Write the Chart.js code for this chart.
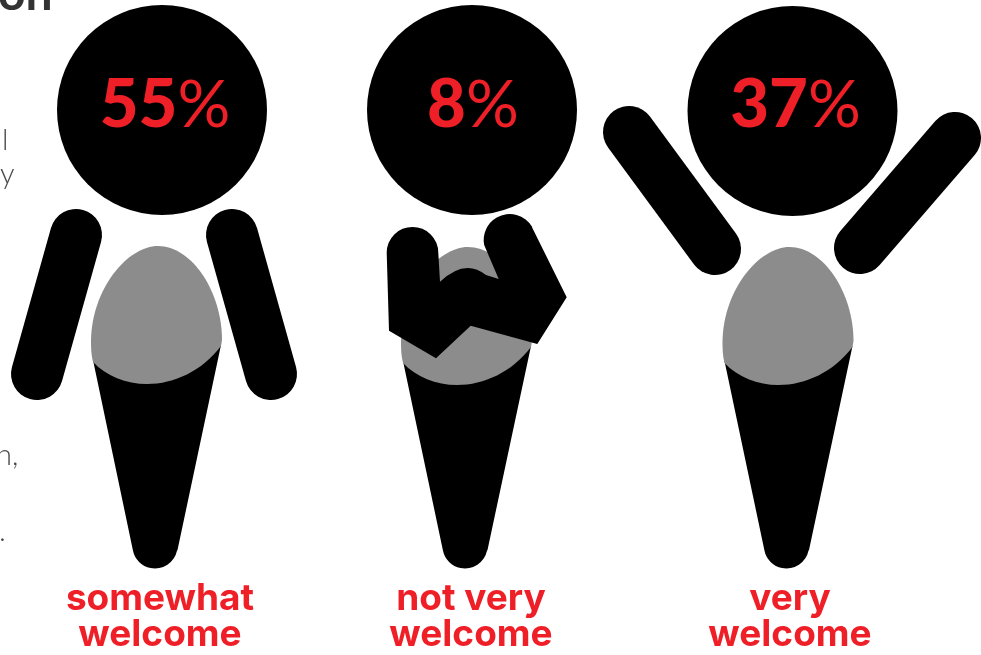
<!DOCTYPE html>
<html>
<head>
<meta charset="utf-8">
<title>How welcome</title>
<script src="https://cdn.jsdelivr.net/npm/chart.js@4/dist/chart.umd.min.js"></script>
<style>
html,body{margin:0;padding:0;background:#fff;overflow:hidden}
#wrap{position:relative;width:981px;height:655px}
</style>
</head>
<body>
<div id="wrap"><canvas id="chart" width="981" height="655"></canvas></div>
<script>
const categories=[['somewhat','welcome'],['not very','welcome'],['very','welcome']];
const shares=[55,8,37];
const headLevels=[110,110,111];

const RED='#ee1f27',GREY='#8c8c8c',BLACK='#000';
const SCALE_H=575; // y axis runs in figure units, top of the page to the axis

// per figure tweaks, the three people are not spaced quite evenly
const HEAD_SHIFT=[0,-5,0.5];
const BODY_SHIFT=[-6,-6,-5];
const TEXT_SHIFT=[3,1,3];
const LABEL_SHIFT=[-2,-6,-2];
const ARM_W=52;

function torso(ctx,dy){
  ctx.fillStyle=BLACK;
  ctx.beginPath();
  ctx.moveTo(-63,360+dy);
  ctx.lineTo(65,345+dy);
  ctx.lineTo(21.5,550);
  ctx.arc(-1,546,22.5,0.2,Math.PI-0.2);
  ctx.closePath();
  ctx.fill();
  ctx.fillStyle=GREY;
  ctx.beginPath();
  ctx.moveTo(-63,362+dy);
  ctx.bezierCurveTo(-65,354+dy,-65,347+dy,-65,340+dy);
  ctx.bezierCurveTo(-64,288+dy,-28,246+dy,2,246+dy);
  ctx.bezierCurveTo(36,246+dy,66,292+dy,66,340+dy);
  ctx.lineTo(65,346+dy);
  ctx.bezierCurveTo(46,371+dy,18,384+dy,-9,384+dy);
  ctx.bezierCurveTo(-30,384+dy,-50,376+dy,-63,362+dy);
  ctx.closePath();
  ctx.fill();
}
function arm(ctx,x1,y1,x2,y2){
  ctx.strokeStyle=BLACK;ctx.lineWidth=ARM_W;ctx.lineCap='round';
  ctx.beginPath();ctx.moveTo(x1,y1);ctx.lineTo(x2,y2);ctx.stroke();
}
function crossedArms(ctx){
  ctx.fillStyle=BLACK;
  ctx.beginPath();
  ctx.moveTo(-79.3,252.7);
  ctx.lineTo(-77,330.7);
  ctx.lineTo(-30,358.3);
  ctx.lineTo(4.7,325.7);
  ctx.lineTo(71.3,344);
  ctx.lineTo(100.7,297.3);
  ctx.lineTo(66,227.3);
  ctx.arc(43.7,240,26,-0.52,2.95,true);
  ctx.lineTo(32.7,279);
  ctx.lineTo(20,275);
  ctx.quadraticCurveTo(-1,258,-26,281.7);
  ctx.lineTo(-27.7,252.7);
  ctx.arc(-53.5,252.7,25.8,0,Math.PI,true);
  ctx.closePath();
  ctx.fill();
}
const poses=[
  ctx=>{arm(ctx,-80,235,-119,374);arm(ctx,76,235,115,374)},
  crossedArms,
  ctx=>{arm(ctx,-158.5,132,-72.5,249);arm(ctx,167.5,138,72.5,248)}
];

// heavy digits next to a thin percent sign
function shareLabel(ctx,value,cx,base){
  const digits=String(value);
  ctx.textAlign='left';ctx.textBaseline='alphabetic';
  ctx.font='900 67px Lato';
  const dw=ctx.measureText(digits).width;
  ctx.font='400 66px Lato';
  const pw=ctx.measureText('%').width;
  const x=cx-(dw+pw)/2;
  ctx.font='900 67px Lato';
  ctx.fillText(digits,x,base);
  ctx.font='400 66px Lato';
  ctx.fillText('%',x+dw,base);
}

const figures={
  id:'figures',
  afterDatasetsUpdate(chart){
    chart.getDatasetMeta(0).data.forEach((p,i)=>{p.x+=HEAD_SHIFT[i]});
  },
  beforeDatasetsDraw(chart){
    const ctx=chart.ctx;
    chart.getDatasetMeta(0).data.forEach((p,i)=>{
      ctx.save();
      ctx.translate(p.x+BODY_SHIFT[i],0);
      torso(ctx,i==0?0:1);
      poses[i](ctx);
      ctx.restore();
    });
  },
  afterDatasetsDraw(chart){
    const ctx=chart.ctx;
    ctx.save();
    ctx.fillStyle=RED;
    chart.getDatasetMeta(0).data.forEach((p,i)=>{
      shareLabel(ctx,shares[i],p.x+TEXT_SHIFT[i],127);
    });
    // ends of the column of text running behind the first figure
    ctx.fillStyle='#333';
    ctx.font='bold 48px Lato';
    ctx.textAlign='left';
    ctx.fillText('on',-2,10);
    ctx.fillStyle='#4a4a4a';
    ctx.font='300 29px Lato';
    ctx.fillText('l',2,150);
    ctx.fillText('y',0,184);
    ctx.fillText('n,',-4,465);
    ctx.fillText('.',-1,541);
    ctx.restore();
  }
};

new Chart(document.getElementById('chart'),{
  type:'line',
  data:{labels:categories,datasets:[{
    data:headLevels,
    showLine:false,
    clip:false,
    pointRadius:105,
    pointHoverRadius:105,
    pointBackgroundColor:BLACK,
    pointBorderWidth:0
  }]},
  options:{
    responsive:false,
    animation:false,
    events:[],
    layout:{autoPadding:false,padding:{left:4.5,right:31.5,top:0,bottom:0}},
    plugins:{legend:{display:false},tooltip:{enabled:false}},
    scales:{
      x:{
        offset:true,
        grid:{display:false,drawTicks:false},
        border:{display:false},
        afterFit(s){s.height=655-SCALE_H},
        afterUpdate(s){
          const base=s.getPixelForTick.bind(s);
          s.getPixelForTick=i=>base(i)+LABEL_SHIFT[i];
        },
        ticks:{
          color:RED,padding:6,maxRotation:0,autoSkip:false,
          font:{family:'Inter',weight:'bold',size:37,lineHeight:0.975}
        }
      },
      y:{display:false,reverse:true,min:0,max:SCALE_H}
    }
  },
  plugins:[figures]
});
</script>
</body>
</html>
